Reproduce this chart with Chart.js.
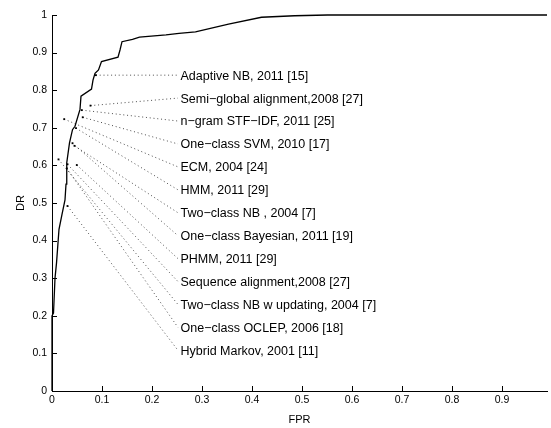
<!DOCTYPE html>
<html>
<head>
<meta charset="utf-8">
<script src="https://cdn.jsdelivr.net/npm/chart.js@4/dist/chart.umd.min.js"></script>
<style>
html,body{margin:0;padding:0;background:#fff;}
canvas{display:block;}
</style>
</head>
<body>
<canvas id="c" width="551" height="428"></canvas>
<script>
// ROC curve (FPR, DR)
const curveFPR = [0, 0, 0.003, 0.006, 0.009, 0.014, 0.02, 0.026, 0.028, 0.0295, 0.035, 0.041, 0.046, 0.056, 0.058, 0.079, 0.082, 0.086, 0.093, 0.099, 0.132, 0.136, 0.14, 0.161, 0.175, 0.228, 0.254, 0.287, 0.353, 0.419, 0.485, 0.551, 0.99];
const curveDR  = [0, 0.2, 0.207, 0.3, 0.34, 0.43, 0.47, 0.508, 0.55, 0.607, 0.66, 0.695, 0.704, 0.749, 0.784, 0.803, 0.827, 0.845, 0.854, 0.876, 0.888, 0.907, 0.929, 0.935, 0.941, 0.947, 0.951, 0.955, 0.976, 0.994, 0.998, 1.0, 1.0];

// Published methods
const methodNames = [
  "Adaptive NB, 2011 [15]",
  "Semi\u2212global alignment,2008 [27]",
  "n\u2212gram STF\u2212IDF, 2011 [25]",
  "One\u2212class SVM, 2010 [17]",
  "ECM, 2004 [24]",
  "HMM, 2011 [29]",
  "Two\u2212class NB , 2004 [7]",
  "One\u2212class Bayesian, 2011 [19]",
  "PHMM, 2011 [29]",
  "Sequence alignment,2008 [27]",
  "Two\u2212class NB w updating, 2004 [7]",
  "One\u2212class OCLEP, 2006 [18]",
  "Hybrid Markov, 2001 [11]"
];
const methodFPR = [0.0878, 0.077, 0.0595, 0.0615, 0.0244, 0.048, 0.045, 0.041, 0.0496, 0.031, 0.013, 0.0297, 0.031];
const methodDR  = [0.840, 0.759, 0.747, 0.728, 0.723, 0.699, 0.652, 0.659, 0.601, 0.603, 0.616, 0.592, 0.492];
const labelDR   = [0.840, 0.779, 0.718, 0.657, 0.596, 0.535, 0.474, 0.413, 0.352, 0.291, 0.230, 0.169, 0.108];
const leaderEndFPR = 0.252;
const labelFPR = 0.257;

const xTicks = [0, 0.1, 0.2, 0.3, 0.4, 0.5, 0.6, 0.7, 0.8, 0.9];
const yTicks = [0, 0.1, 0.2, 0.3, 0.4, 0.5, 0.6, 0.7, 0.8, 0.9, 1];

const FONT = "'Liberation Sans', Arial, Helvetica, sans-serif";

const datasets = [];
datasets.push({
  data: curveFPR.map((x, i) => ({x, y: curveDR[i]})),
  showLine: true, borderColor: '#000', borderWidth: 1.3, pointRadius: 0, clip: false, order: 0
});
methodNames.forEach((n, i) => {
  datasets.push({
    data: [{x: methodFPR[i], y: methodDR[i]}, {x: leaderEndFPR, y: labelDR[i]}],
    showLine: true, borderColor: 'rgba(0,0,0,0.7)', borderWidth: 1, borderDash: [1, 2.8],
    pointRadius: 0, order: 2
  });
});
datasets.push({
  data: methodFPR.map((x, i) => ({x, y: methodDR[i]})),
  showLine: false, pointRadius: 1.3, pointBackgroundColor: '#000', pointBorderWidth: 0, pointStyle: 'rect', order: 1
});

const tickPlugin = {
  id: 'inwardTicks',
  afterDraw(chart) {
    const {ctx, scales: {x, y}, chartArea} = chart;
    ctx.save();
    ctx.strokeStyle = '#000';
    ctx.lineWidth = 1;
    ctx.beginPath();
    xTicks.forEach(v => {
      const px = Math.round(x.getPixelForValue(v)) + 0.5;
      ctx.moveTo(px, chartArea.bottom);
      ctx.lineTo(px, chartArea.bottom - 5);
    });
    yTicks.forEach(v => {
      const py = Math.round(y.getPixelForValue(v)) + 0.5;
      ctx.moveTo(chartArea.left, py);
      ctx.lineTo(chartArea.left + 5, py);
    });
    ctx.stroke();
    // method labels
    ctx.fillStyle = '#000';
    ctx.font = '12.5px ' + FONT;
    ctx.textAlign = 'left';
    ctx.textBaseline = 'middle';
    methodNames.forEach((n, i) => {
      ctx.fillText(n, x.getPixelForValue(labelFPR), y.getPixelForValue(labelDR[i]) + 1);
    });
    ctx.restore();
  }
};

const fmt = v => (v === 0 ? '0' : (v === 1 ? '1' : v.toFixed(1)));

new Chart(document.getElementById('c'), {
  type: 'scatter',
  data: {datasets},
  options: {
    responsive: false,
    animation: false,
    devicePixelRatio: 1,
    layout: {padding: {top: 15, right: 0, left: 0, bottom: 0}},
    plugins: {legend: {display: false}, tooltip: {enabled: false}},
    scales: {
      x: {
        type: 'linear', min: 0, max: 0.99,
        afterBuildTicks: s => { s.ticks = xTicks.map(v => ({value: v})); },
        afterFit: s => { s.height = 37; },
        grid: {display: false, drawTicks: false},
        border: {display: true, color: '#000', width: 1},
        ticks: {padding: 3, color: '#000', font: {family: FONT, size: 10.5}, callback: fmt, maxRotation: 0, autoSkip: false},
        title: {display: true, text: 'FPR', color: '#000', font: {family: FONT, size: 11}, padding: {top: 0, bottom: 1.5}}
      },
      y: {
        type: 'linear', min: 0, max: 1,
        afterBuildTicks: s => { s.ticks = yTicks.map(v => ({value: v})); },
        afterFit: s => { s.width = 52; },
        grid: {display: false, drawTicks: false},
        border: {display: true, color: '#000', width: 1},
        ticks: {padding: 5, color: '#000', font: {family: FONT, size: 10.5}, callback: fmt, autoSkip: false},
        title: {display: true, text: 'DR', color: '#000', font: {family: FONT, size: 11}, padding: {top: 14.5, bottom: 0}}
      }
    }
  },
  plugins: [tickPlugin]
});
</script>
</body>
</html>
